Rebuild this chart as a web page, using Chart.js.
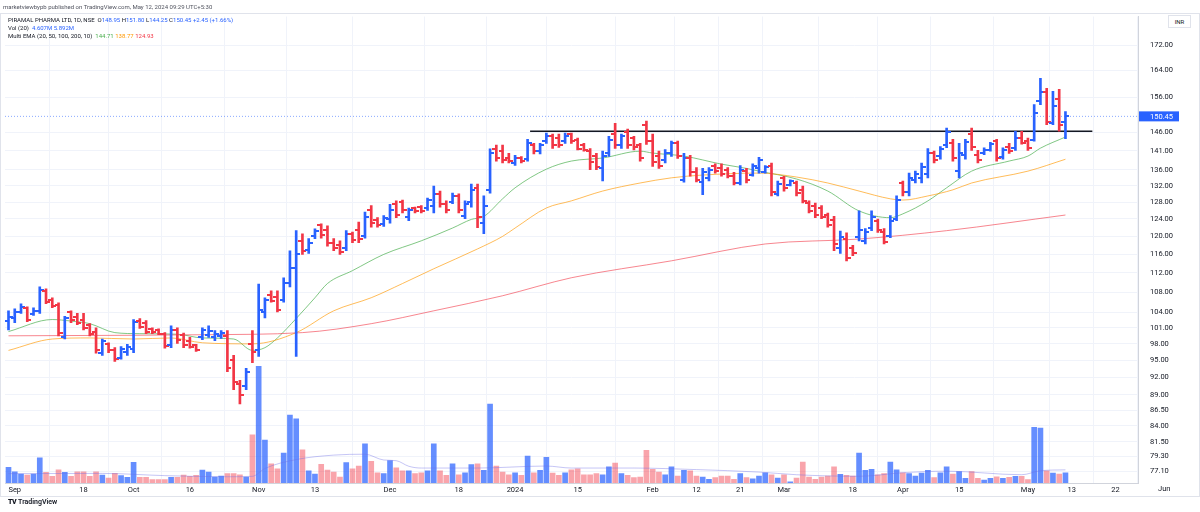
<!DOCTYPE html>
<html>
<head>
<meta charset="utf-8">
<script src="https://cdn.jsdelivr.net/npm/chart.js@4.4.1/dist/chart.umd.min.js"></script>
<style>
  html, body { margin: 0; padding: 0; background: #fff; }
  #wrap { position: relative; width: 1200px; height: 512px; overflow: hidden; font-family: Roboto, "Liberation Sans", sans-serif; }
  #frame { position: absolute; left: 0; top: 13px; width: 1198px; height: 482px; border: 1px solid #e0e3eb; }
  canvas { position: absolute; left: 0; top: 0; }
  .txt { position: absolute; white-space: nowrap; font-size: 6px; color: #131722; line-height: 8px; }
  .hdr { left: 3px; top: 3px; color: #50535e; }
  .up { color: #2962ff; }
  #inr { position: absolute; left: 1168px; top: 15px; width: 21px; height: 11px; border: 1px solid #e0e3eb; background: #fff; font-size: 6px; line-height: 11px; text-align: center; color: #131722; }
  #logo { position: absolute; left: 8px; top: 498px; font-size: 7px; color: #131722; font-weight: 600; }
  #logo b { font-weight: 900; letter-spacing: -0.5px; margin-right: 2px; }
</style>
</head>
<body>
<div id="wrap">
  <div id="frame"></div>
  <canvas id="chart" width="1200" height="512"></canvas>
  <div class="txt hdr">marketviewbypb published on TradingView.com, May 12, 2024 09:29 UTC+5:30</div>
  <div class="txt" id="lg1" style="left:8px;top:16px"></div>
  <div class="txt" id="lg2" style="left:8px;top:24px"></div>
  <div class="txt" id="lg3" style="left:8px;top:32px"></div>
  <div id="inr">INR</div>
  <div class="txt" style="left:1158px;top:485px;font-size:7.5px">Jun</div>
  <div id="logo"><b>TV</b>TradingView</div>
</div>
<script>
// daily bars, 31 Aug 2023 .. 10 May 2024 (index = trading day)
const opens = [102.4,102.8,104.0,104.8,103.6,104.3,108.3,106.5,105.5,99.3,104.0,103.0,102.5,101.5,100.2,96.4,97.9,96.8,95.5,96.5,97.0,
  102.3,102.0,100.8,100.5,99.8,97.8,100.6,99.6,98.5,97.7,
  99.3,99.6,99.2,99.4,99.5,95.0,90.8,90.5,98.0,96.8,104.0,107.5,107.0,106.5,110.0,113.0,119.0,117.0,120.0,122.5,121.5,118.5,118.0,117.5,120.5,121.5,120.0,126.0,123.8,122.8,
  124.0,127.5,128.0,124.5,126.5,126.8,126.5,127.0,130.0,127.5,128.0,129.5,124.8,128.0,131.5,123.0,131.0,141.5,141.0,139.0,137.8,139.2,138.8,142.5,141.0,143.5,145.0,144.5,143.5,145.5,
  144.0,142.5,141.0,139.5,136.5,140.5,145.5,142.5,146.0,144.5,142.5,148.0,143.5,139.5,138.5,140.5,143.0,133.5,139.0,135.5,133.0,134.0,137.0,136.5,136.0,134.5,132.8,135.8,134.8,136.5,
  135.5,137.0,130.0,134.0,132.2,132.8,131.0,127.8,127.0,126.5,125.0,123.8,117.5,119.5,117.5,119.8,119.0,122.0,123.5,121.0,120.0,124.0,132.8,130.5,133.5,134.0,135.0,140.5,139.5,142.5,
  143.0,135.7,140.0,145.5,140.0,140.3,141.3,143.5,139.3,142.0,141.8,144.5,143.5,144.0,155.0,157.5,148.5,155.5,148.95];
const highs = [104.3,104.7,105.7,105.1,104.9,109.1,108.7,106.9,105.9,103.2,104.3,103.8,103.8,101.8,101.0,98.9,98.2,97.3,97.5,97.9,102.6,
  102.8,102.4,101.0,100.8,100.1,101.4,101.0,100.0,99.2,97.9,
  101.0,101.4,100.5,100.5,100.5,95.9,91.5,93.6,100.5,109.7,106.9,108.3,108.3,111.0,116.8,121.3,120.6,119.5,121.7,122.9,122.4,119.5,119.0,121.3,121.0,123.3,125.6,127.2,124.3,124.8,
  127.5,128.3,128.5,126.6,126.8,127.2,129.0,131.9,130.7,128.3,130.2,130.0,128.3,132.4,132.4,129.5,141.5,142.5,142.5,140.3,139.8,139.5,144.1,143.0,143.0,145.8,145.5,145.5,145.8,145.8,
  144.4,143.0,141.6,140.3,140.9,144.9,148.5,145.5,146.9,144.9,143.0,149.1,145.5,140.9,141.3,143.6,143.6,140.3,139.8,136.6,136.4,136.6,137.6,137.6,136.6,135.4,137.1,136.4,137.6,139.3,
  137.1,137.8,133.2,134.4,133.5,133.2,131.9,128.3,127.8,127.2,125.4,124.6,121.2,120.8,118.0,125.9,121.8,125.9,124.0,121.8,124.8,129.5,133.2,135.2,135.7,137.8,141.6,140.9,142.1,147.2,
  144.1,143.0,144.1,147.2,141.1,141.8,143.3,144.1,141.8,143.0,146.3,146.3,144.4,153.8,161.6,158.6,157.7,158.3,151.80];
const lows = [100.6,102.0,103.8,102.2,103.4,103.8,105.7,104.9,99.5,98.9,102.0,101.6,100.6,99.5,96.3,95.9,96.4,94.8,95.2,95.9,96.4,
  100.9,99.9,99.9,99.7,97.2,97.3,98.1,97.3,97.2,96.6,
  98.8,99.2,98.6,99.0,93.0,89.9,87.5,89.9,94.6,95.7,102.9,106.0,104.1,106.0,109.1,95.7,116.0,116.2,119.5,119.6,117.8,116.8,116.0,116.8,118.6,118.6,119.6,122.1,122.1,122.3,
  123.0,124.3,125.4,123.6,125.4,125.4,126.0,125.4,126.8,125.4,127.6,125.4,124.1,126.8,122.0,120.6,130.2,138.3,137.8,137.8,137.2,137.8,138.3,140.2,140.2,143.0,141.6,141.9,143.0,143.0,
  141.2,140.9,136.1,136.1,133.2,139.5,141.6,141.6,141.6,141.2,138.3,142.7,136.9,136.4,137.8,139.5,139.0,132.9,134.4,133.0,129.8,133.2,135.2,134.4,134.0,132.2,132.2,132.7,134.4,135.2,
  135.2,129.5,129.5,130.7,132.0,129.5,127.8,125.4,124.3,124.1,122.1,116.8,116.2,114.6,115.7,119.0,118.3,121.3,120.9,118.3,119.7,123.6,129.5,129.5,132.7,132.7,134.0,137.8,138.8,141.8,
  138.3,134.0,138.8,141.1,137.8,140.0,140.9,138.3,138.8,140.3,141.1,142.8,141.1,143.6,153.8,148.1,148.1,146.3,144.25];
const closes = [103.0,104.0,105.0,102.5,104.3,108.5,106.0,105.2,100.0,102.8,102.5,102.0,101.0,99.8,96.8,98.5,96.8,95.2,97.0,97.5,102.2,
  101.2,100.3,100.3,99.9,97.6,100.6,98.7,97.8,97.5,96.8,
  100.5,100.4,99.8,100.0,93.7,91.2,89.0,93.0,96.5,104.5,106.5,106.3,104.5,110.0,113.0,116.0,116.8,118.5,121.2,120.3,118.5,117.3,116.5,120.5,119.2,119.5,124.5,123.0,122.5,124.3,
  126.0,125.0,126.0,126.0,125.8,125.8,128.5,130.0,127.5,126.0,129.5,126.0,127.5,131.0,124.5,127.0,140.5,139.0,138.5,138.2,139.2,138.2,143.0,141.0,142.5,145.0,142.5,142.5,145.0,143.5,
  141.5,141.2,138.0,136.8,139.5,144.0,142.5,145.0,142.5,142.0,139.0,143.5,138.0,137.0,140.5,143.0,139.5,139.0,135.5,133.5,135.5,136.0,135.8,135.0,134.5,132.7,136.0,133.5,137.0,138.5,
  136.8,130.5,132.5,131.5,133.2,130.2,128.2,125.8,125.0,124.5,122.5,118.2,119.8,115.3,116.2,121.5,121.0,124.5,121.5,118.8,123.5,128.5,130.5,134.0,135.0,136.8,140.5,138.5,141.5,146.0,
  139.0,140.3,143.3,142.0,138.5,141.3,142.8,139.0,141.3,141.0,144.5,143.2,141.8,151.5,157.5,149.0,153.5,148.0,150.45];
// volume in millions
const volumes = [7.0,5.0,4.0,3.6,4.0,11.3,4.8,3.0,5.9,4.8,3.0,5.0,5.0,3.0,5.0,3.6,2.2,4.3,3.3,2.5,9.3,
  2.5,2.5,1.5,1.5,1.5,2.5,2.5,3.6,3.0,3.4,
  5.8,4.9,2.7,3.1,4.2,4.2,3.7,2.7,21.6,52.3,19.2,8.6,6.4,13.4,30.4,28.7,14.9,5.4,4.0,8.4,5.8,4.9,2.7,9.1,6.4,7.6,17.6,9.7,4.6,4.2,
  10.1,6.8,5.4,5.4,4.2,4.6,5.4,17.6,5.4,3.4,8.6,3.7,4.6,8.2,8.6,5.7,35.4,7.6,4.9,3.7,4.6,3.4,12.1,4.6,5.7,11.5,4.5,3.4,4.6,5.9,
  6.4,3.7,3.7,4.2,3.7,7.2,8.9,4.2,3.4,2.4,2.7,14.6,6.1,4.9,3.7,7.2,3.1,5.7,5.4,3.1,2.7,1.7,2.4,3.1,3.1,1.7,4.2,2.4,1.9,3.1,
  4.6,3.7,2.2,3.7,0.5,2.2,9.4,2.7,1.7,2.7,3.1,7.2,3.9,3.4,3.1,13.4,5.7,6.1,3.7,4.2,9.4,5.9,4.6,4.2,3.1,4.5,5.7,2.4,4.6,7.2,
  4.0,5.1,2.1,5.1,2.1,1.3,2.1,2.8,2.1,2.5,3.0,3.0,1.5,24.9,24.6,5.5,4.5,4.0,4.607];

// indicator lines at sample bars
const ema20Idx = [0,7,10,13,17,21,27,31,36,39,41,43,46,49,51,55,60,66,71,74,76,79,81,86,90,95,101,103,108,114,118,120,126,131,136,141,143,147,150,154,160,163,165,169];
const ema20 = [100.3,102.6,102.3,101.8,100.1,99.9,99.8,99.1,98.9,96.8,97.3,99.1,102.8,106.9,109.8,112.5,116.0,119.0,121.9,123.9,124.6,128.8,131.5,136.2,138.3,139.1,140.9,140.4,139.6,137.5,136.4,135.7,133.7,130.7,125.9,124.3,125.2,128.3,131.5,135.7,138.3,139.6,141.7,144.71];
const ema50Idx = [0,7,13,20,26,31,39,46,52,58,63,68,75,79,81,86,90,95,101,106,111,120,126,131,136,141,143,147,151,154,163,169];
const ema50 = [96.8,98.9,99.1,98.9,99.1,98.2,98.0,100.1,104.3,106.9,109.8,112.9,117.2,120.0,121.9,126.6,128.3,130.7,132.7,134.0,134.7,135.2,134.2,132.7,130.7,128.8,128.5,129.5,131.0,132.7,135.7,138.77];
const ema100Idx = [0,20,31,47,58,68,79,90,106,121,136,150,169];
const ema100 = [99.5,99.6,99.7,100.1,101.8,104.3,107.3,111.0,114.6,118.3,119.4,121.3,124.93];
const volMaIdx = [0,15,25,35,39,41,46,52,57,60,62,64,66,75,86,90,100,110,120,126,136,143,150,162,165,169];
const volMa = [4.2,4.3,3.3,2.8,3.0,6.5,10.5,12.5,12.9,10.3,10.0,7.5,6.7,6.7,7.6,6.7,6.7,6.0,4.9,3.7,3.0,4.6,5.3,3.7,5.5,5.892];

const levelPrice = 146.3;
const levelFrom = 83.4, levelTo = 173.3;

const timeTickIdx = [1,12,20,29,40,49,61,72,81,91,103,110,117,124,135,143,152,163,170,177];
const timeTickLabels = ["Sep","18","Oct","16","Nov","13","Dec","18","2024","15","Feb","12","21","Mar","18","Apr","15","May","13","22"];
const priceTicks = [77.1,79.3,81.5,84,86.5,89,92,95,98,101,104,108,112,116,120,124,128,132,136,141,146,156,164,172];

const upCol = "#2962ff", dnCol = "#f23645";
const n = closes.length;
const last = n - 1;
const isUp = i => closes[i] >= opens[i];

// legend text
const prevClose = closes[last - 1];
const chg = closes[last] - prevClose;
document.getElementById("lg1").innerHTML =
  "PIRAMAL PHARMA LTD, 1D, NSE &nbsp;O<span class='up'>" + opens[last].toFixed(2) +
  "</span> H<span class='up'>" + highs[last].toFixed(2) + "</span> L<span class='up'>" + lows[last].toFixed(2) +
  "</span> C<span class='up'>" + closes[last].toFixed(2) + "</span> <span class='up'>+" + chg.toFixed(2) +
  " (+" + (chg / prevClose * 100).toFixed(2) + "%)</span>";
document.getElementById("lg2").innerHTML =
  "Vol (20) &nbsp;<span class='up'>" + volumes[last].toFixed(3) + "M</span> <span class='up'>" + volMa[volMa.length - 1].toFixed(3) + "M</span>";
document.getElementById("lg3").innerHTML =
  "Multi EMA (20, 50, 100, 200, 10) &nbsp;<span style='color:#4caf50'>" + ema20[ema20.length - 1].toFixed(2) +
  "</span> <span style='color:#ff9800'>" + ema50[ema50.length - 1].toFixed(2) +
  "</span> <span style='color:#f23645'>" + ema100[ema100.length - 1].toFixed(2) + "</span>";

// small open / close tick images
function tick(color, side) {
  const c = document.createElement("canvas");
  c.width = 8; c.height = 2;
  const g = c.getContext("2d");
  g.fillStyle = color;
  g.fillRect(side === "open" ? 0 : 4, 0, 4, 2);
  return c;
}
const openUp = tick(upCol, "open"), openDn = tick(dnCol, "open");
const closeUp = tick(upCol, "close"), closeDn = tick(dnCol, "close");

const xMin = -0.56, xMax = 180.6;
const yMin = 75.4, yMax = 181.6;

const pts = (xs, ys) => xs.map((x, k) => ({ x: x, y: ys[k] }));

const lastLabel = {
  id: "lastLabel",
  afterDraw(chart) {
    const ctx = chart.ctx;
    const y = chart.scales.y.getPixelForValue(closes[last]);
    const x = chart.chartArea.right + 1;
    ctx.save();
    ctx.fillStyle = upCol;
    ctx.fillRect(x, y - 5, 40, 10);
    ctx.fillStyle = "#fff";
    ctx.font = "7.5px Roboto";
    ctx.textBaseline = "middle";
    ctx.fillText(closes[last].toFixed(2), x + 11, y + 0.5);
    ctx.restore();
  }
};

new Chart(document.getElementById("chart"), {
  type: "bar",
  data: {
    datasets: [
      { type: "line", data: [{ x: xMin, y: closes[last] }, { x: xMax, y: closes[last] }], borderColor: "rgba(41,98,255,0.55)",
        borderWidth: 1, borderDash: [1, 2], pointRadius: 0, yAxisID: "y", order: 6 },
      { type: "bar", data: volumes.map((v, i) => ({ x: i, y: v })), yAxisID: "yVol", grouped: false, barThickness: 5,
        backgroundColor: c => isUp(c.dataIndex) ? "rgba(41,98,255,0.72)" : "rgba(242,54,69,0.45)", order: 5 },
      { type: "line", data: pts(volMaIdx, volMa), yAxisID: "yVol", borderColor: "rgba(110,110,230,0.4)", borderWidth: 1,
        pointRadius: 0, cubicInterpolationMode: "monotone", order: 4 },
      { type: "line", data: pts(ema100Idx, ema100), yAxisID: "y", borderColor: "rgba(242,54,69,0.6)", borderWidth: 1,
        pointRadius: 0, cubicInterpolationMode: "monotone", order: 3 },
      { type: "line", data: pts(ema50Idx, ema50), yAxisID: "y", borderColor: "rgba(255,152,0,0.65)", borderWidth: 1,
        pointRadius: 0, cubicInterpolationMode: "monotone", order: 3 },
      { type: "line", data: pts(ema20Idx, ema20), yAxisID: "y", borderColor: "rgba(76,175,80,0.7)", borderWidth: 1,
        pointRadius: 0, cubicInterpolationMode: "monotone", order: 3 },
      { type: "line", data: [{ x: levelFrom, y: levelPrice }, { x: levelTo, y: levelPrice }], yAxisID: "y",
        borderColor: "#131722", borderWidth: 1.5, pointRadius: 0, order: 2 },
      { type: "bar", data: highs.map((h, i) => ({ x: i, y: [lows[i], h] })), yAxisID: "y", grouped: false, barThickness: 2,
        backgroundColor: c => isUp(c.dataIndex) ? upCol : dnCol, order: 1 },
      { type: "line", data: opens.map((o, i) => ({ x: i, y: o })), yAxisID: "y", showLine: false, pointRadius: 1,
        pointStyle: c => isUp(c.dataIndex) ? openUp : openDn, order: 0 },
      { type: "line", data: closes.map((v, i) => ({ x: i, y: v })), yAxisID: "y", showLine: false, pointRadius: 1,
        pointStyle: c => isUp(c.dataIndex) ? closeUp : closeDn, order: 0 }
    ]
  },
  options: {
    responsive: false,
    animation: false,
    devicePixelRatio: 1,
    layout: { padding: { top: 14, left: 1, right: 0, bottom: 0 } },
    plugins: { legend: { display: false }, tooltip: { enabled: false } },
    scales: {
      x: {
        type: "linear", min: xMin, max: xMax, offset: false, bounds: "data",
        afterBuildTicks: s => { s.ticks = timeTickIdx.map(v => ({ value: v })); },
        afterFit: s => { s.height = 29; },
        ticks: { autoSkip: false, maxRotation: 0, padding: 3, color: "#131722",
          font: { family: "Roboto", size: 7.5 }, callback: (v, i) => timeTickLabels[i] },
        grid: { color: "#f0f3fa", drawTicks: false },
        border: { color: "#d1d4dc" }
      },
      y: {
        type: "logarithmic", position: "right", min: yMin, max: yMax, bounds: "data",
        afterBuildTicks: s => { s.ticks = priceTicks.map(v => ({ value: v })); },
        afterFit: s => { s.width = 62; },
        ticks: { padding: 12, color: "#131722", font: { family: "Roboto", size: 7.5 },
          callback: v => Number(v).toFixed(2) },
        grid: { color: "#f0f3fa", drawTicks: false },
        border: { color: "#d1d4dc" }
      },
      yVol: { type: "linear", display: false, min: 0, max: 209 }
    }
  },
  plugins: [lastLabel]
});
</script>
</body>
</html>
